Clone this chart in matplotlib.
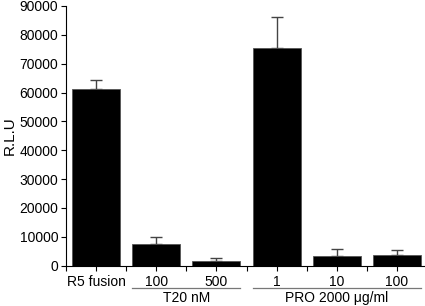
import numpy as np
import matplotlib
matplotlib.use("Agg")
import matplotlib.pyplot as plt
import matplotlib.transforms as mtransforms

categories = ["R5 fusion", "100", "500", "1", "10", "100"]
rlu = [61200, 7600, 1500, 75500, 3300, 3600]
err_up = [3200, 2200, 1100, 10700, 2500, 1800]
groups = ["T20 nM", "PRO 2000 \u03bcg/ml"]
group_spans = [(1, 2), (3, 5)]


def main():
    plt.rcParams["font.family"] = ["Liberation Sans", "DejaVu Sans"]
    plt.rcParams["font.size"] = 10

    fig = plt.figure(figsize=(4.25, 3.06), dpi=100)
    ax = fig.add_axes([0.1553, 0.1317, 0.8424, 0.8487])

    x = np.arange(len(categories))
    ax.bar(x, rlu, width=0.8, color="black", edgecolor="#555555", linewidth=0.6, zorder=2)
    ax.errorbar(x, rlu, yerr=[np.zeros(len(rlu)), err_up], fmt="none",
                ecolor="#444444", elinewidth=1.0, capsize=4, capthick=1.0, zorder=1)

    ax.set_xlim(-0.5, 5.45)
    ax.set_ylim(0, 90000)
    ax.set_yticks(np.arange(0, 90001, 10000))
    ax.set_xticks(x)
    ax.set_xticklabels(categories)
    ax.set_xticks(np.arange(-0.5, 5, 1.0), minor=True)
    ax.tick_params(axis="x", which="both", length=3.5, width=0.8, pad=3.5)
    ax.tick_params(axis="y", length=3.5, width=0.8, pad=2)
    ax.spines["top"].set_visible(False)
    ax.spines["right"].set_visible(False)
    ax.set_ylabel("R.L.U", fontsize=11, labelpad=2)

    trans = mtransforms.blended_transform_factory(ax.transData, ax.transAxes)
    for label, (a, b) in zip(groups, group_spans):
        ax.plot([a - 0.4, b + 0.4], [-0.085, -0.085], color="#777777", lw=0.9,
                transform=trans, clip_on=False)
        ax.text((a + b) / 2, -0.124, label, ha="center", va="center", transform=trans)

    fig.savefig("out.png", dpi=100)


if __name__ == "__main__":
    main()
